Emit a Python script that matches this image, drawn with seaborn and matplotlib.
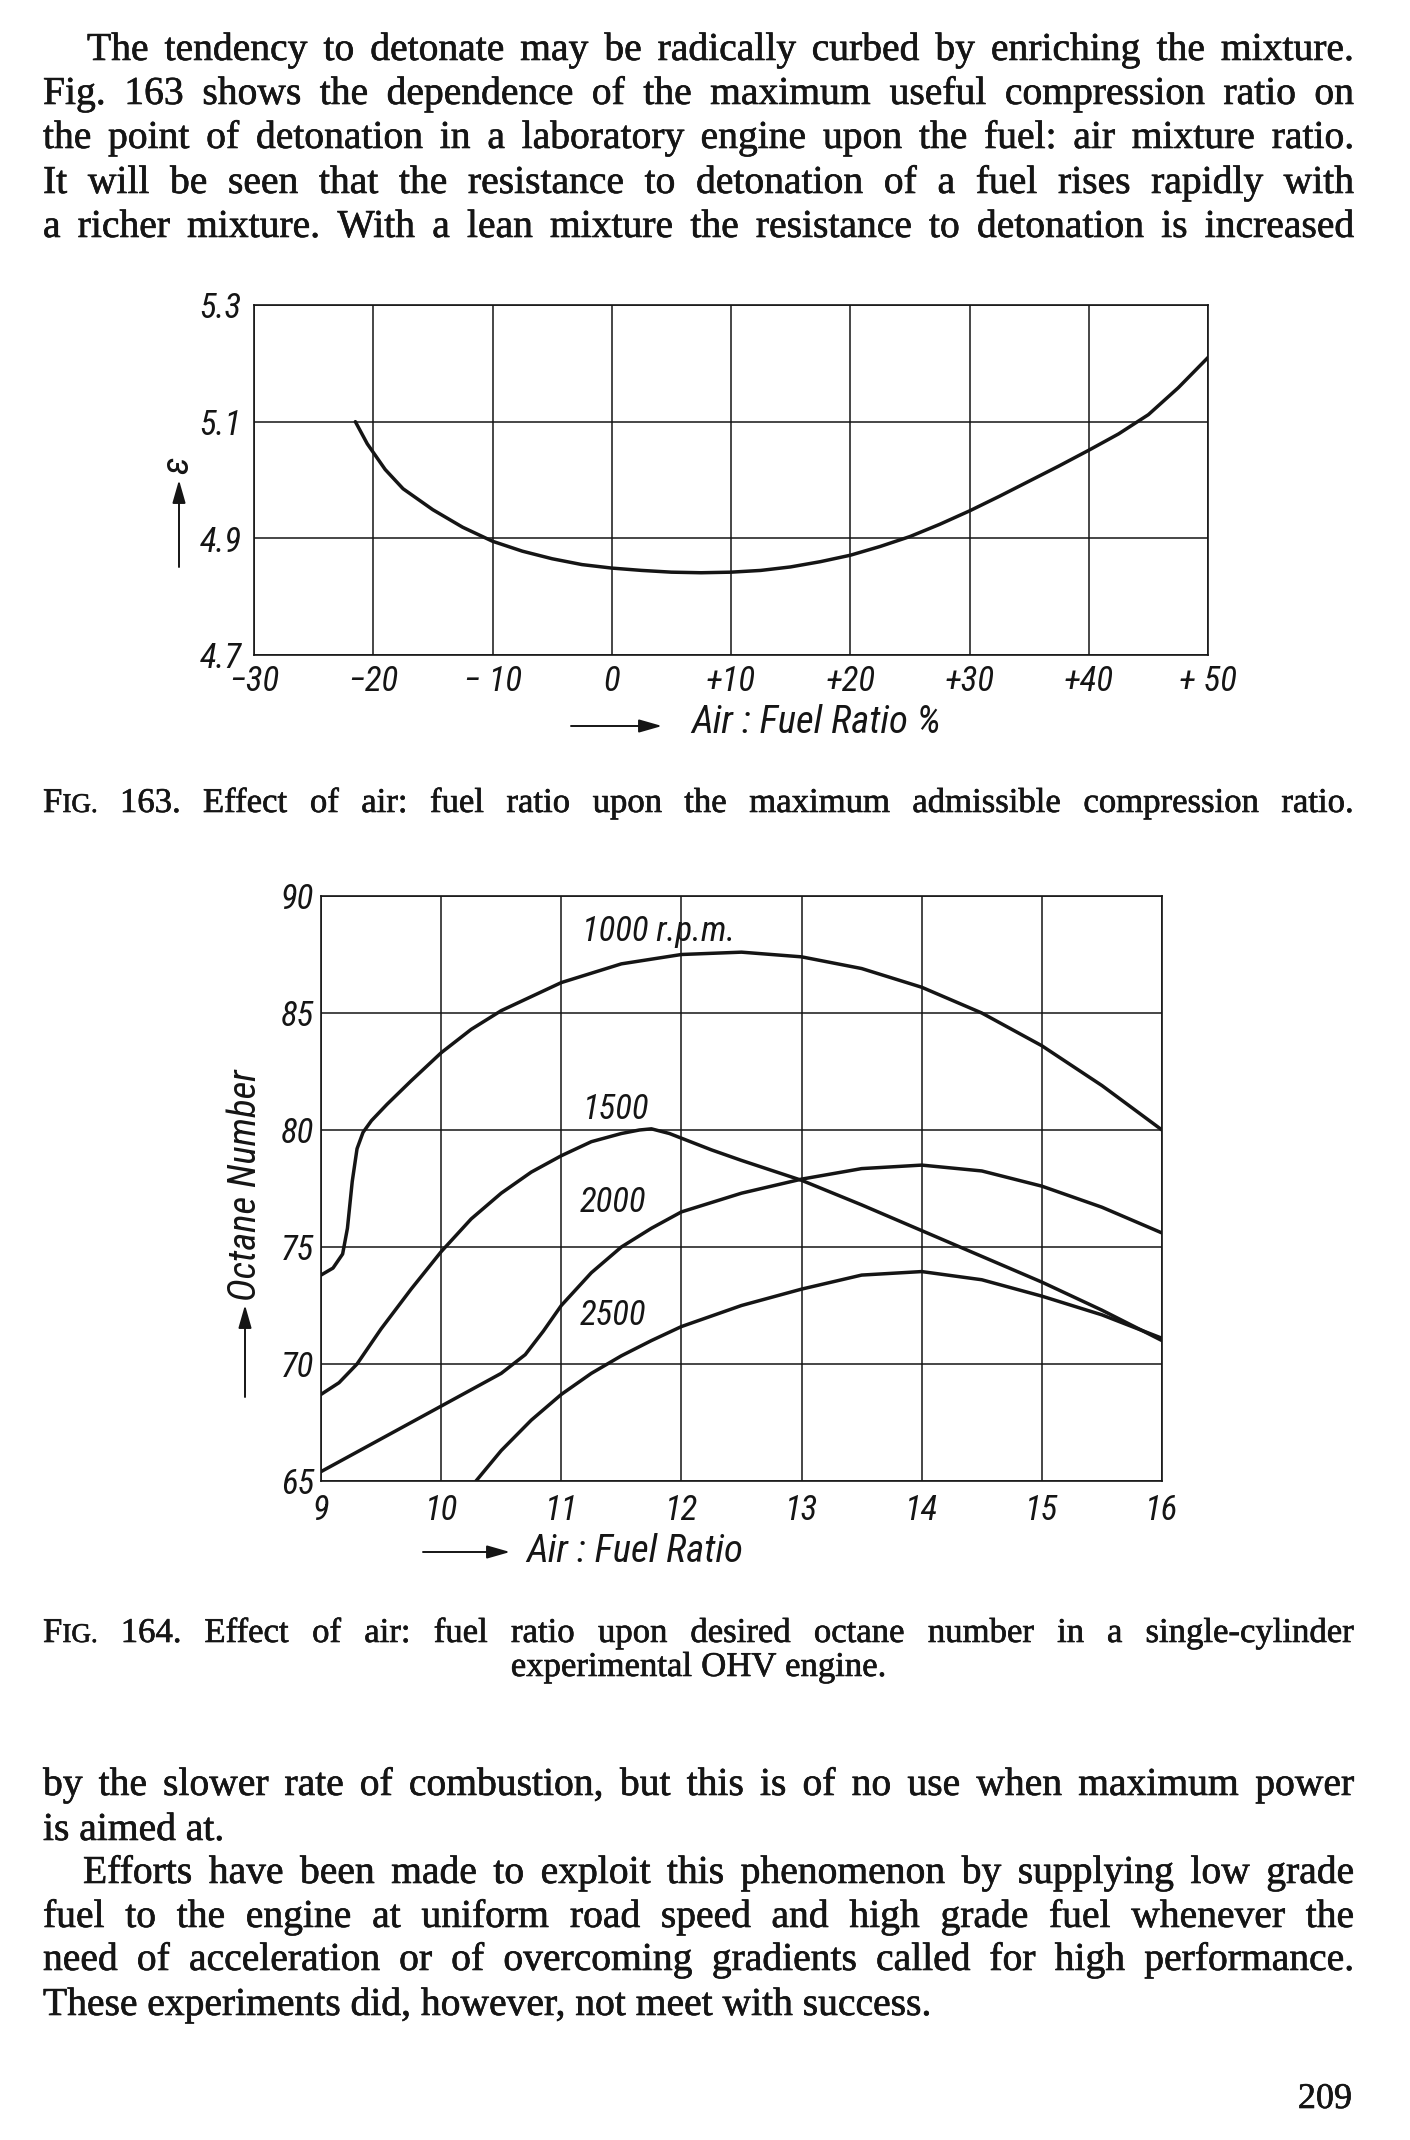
import numpy as np
import pandas as pd
import matplotlib
matplotlib.use("Agg")
import matplotlib.pyplot as plt
import matplotlib.patheffects as pe
from matplotlib.font_manager import FontProperties
import seaborn as sns
from matplotlib import font_manager as fm

# ---------------- data : Fig. 163 ----------------
fig163_ratio = [-21.5, -20.5, -19, -17.5, -15, -12.5, -10, -7.5, -5, -2.5, 0, 2.5, 5, 7.5, 10,
                12.5, 15, 17.5, 20, 22.5, 25, 27.5, 30, 32.5, 35, 37.5, 40, 42.5, 45, 47.5, 50]
fig163_eps = [5.10, 5.062, 5.018, 4.985, 4.949, 4.919, 4.895, 4.878, 4.865, 4.855, 4.849, 4.845,
              4.842, 4.841, 4.842, 4.845, 4.851, 4.86, 4.871, 4.886, 4.903, 4.924, 4.947, 4.972,
              4.998, 5.024, 5.051, 5.079, 5.112, 5.158, 5.21]
fig163_xticks = [-30, -20, -10, 0, 10, 20, 30, 40, 50]
fig163_xticklabels = ["\u221230", "\u221220", "\u2212 10", "0", "+10", "+20", "+30", "+40", "+ 50"]
fig163_yticks = [4.7, 4.9, 5.1, 5.3]
fig163_yticklabels = ["4.7", "4.9", "5.1", "5.3"]

# ---------------- data : Fig. 164 ----------------
afr_1000 = [9.0, 9.1, 9.18, 9.22, 9.26, 9.3, 9.35, 9.42, 9.55, 9.75, 10, 10.25, 10.5, 11, 11.5,
            12, 12.5, 13, 13.5, 14, 14.5, 15, 15.5, 16]
octane_1000 = [73.8, 74.1, 74.7, 75.8, 77.8, 79.2, 79.9, 80.4, 81.1, 82.1, 83.3, 84.3, 85.1,
               86.3, 87.1, 87.5, 87.6, 87.4, 86.9, 86.1, 85.0, 83.6, 81.9, 80.0]
afr_1500 = [9.0, 9.15, 9.3, 9.5, 9.75, 10, 10.25, 10.5, 10.75, 11, 11.25, 11.5, 11.65, 11.75,
            11.9, 12.25, 12.5, 13, 13.5, 14, 14.5, 15, 15.5, 16]
octane_1500 = [68.7, 69.2, 70.0, 71.5, 73.2, 74.8, 76.2, 77.3, 78.2, 78.9, 79.5, 79.85, 80.0,
               80.05, 79.85, 79.15, 78.7, 77.85, 76.8, 75.7, 74.6, 73.5, 72.3, 71.0]
afr_2000 = [9.0, 9.5, 10, 10.5, 10.7, 10.85, 11, 11.25, 11.5, 11.75, 12, 12.5, 13, 13.5, 14,
            14.5, 15, 15.5, 16]
octane_2000 = [65.4, 66.8, 68.2, 69.6, 70.4, 71.4, 72.5, 73.9, 75.0, 75.8, 76.5, 77.3, 77.9,
               78.35, 78.5, 78.25, 77.6, 76.7, 75.6]
afr_2500 = [10.29, 10.5, 10.75, 11, 11.25, 11.5, 11.75, 12, 12.5, 13, 13.5, 14, 14.5, 15,
            15.5, 16]
octane_2500 = [65.0, 66.3, 67.6, 68.7, 69.6, 70.35, 71.0, 71.6, 72.5, 73.2, 73.8, 73.95, 73.6,
               72.9, 72.1, 71.1]
series_names = ["1000 r.p.m.", "1500", "2000", "2500"]
fig164_xticks = [9, 10, 11, 12, 13, 14, 15, 16]
fig164_yticks = [65, 70, 75, 80, 85, 90]

# ---------------- page text ----------------
para1 = [
    "The tendency to detonate may be radically curbed by enriching the mixture.",
    "Fig. 163 shows the dependence of the maximum useful compression ratio on",
    "the point of detonation in a laboratory engine upon the fuel: air mixture ratio.",
    "It will be seen that the resistance to detonation of a fuel rises rapidly with",
    "a richer mixture. With a lean mixture the resistance to detonation is increased",
]
caption163 = "IG. 163. Effect of air: fuel ratio upon the maximum admissible compression ratio."
caption164_l1 = "IG. 164. Effect of air: fuel ratio upon desired octane number in a single-cylinder"
caption164_l2 = "experimental OHV engine."
para2 = [
    "by the slower rate of combustion, but this is of no use when maximum power",
    "is aimed at.",
    "Efforts have been made to exploit this phenomenon by supplying low grade",
    "fuel to the engine at uniform road speed and high grade fuel whenever the",
    "need of acceleration or of overcoming gradients called for high performance.",
    "These experiments did, however, not meet with success.",
]
page_number = "209"

# ---------------- style ----------------
sns.set_theme(style="white")
names = {f.name for f in fm.fontManager.ttflist}
SERIF = "Liberation Serif" if "Liberation Serif" in names else "DejaVu Serif"
plt.rcParams["font.family"] = [SERIF, "DejaVu Sans"]
INK = "#151515"


def find_condensed_italic():
    cands = []
    for f in fm.fontManager.ttflist:
        p = f.fname.lower()
        if ("condensed" in p or "narrow" in p) and ("italic" in p or "oblique" in p) \
                and "bold" not in p and "light" not in p and "thin" not in p \
                and "black" not in p and "medium" not in p and "semi" not in p \
                and "extra" not in p:
            cands.append(f.fname)
    for key in ["roboto", "dejavu", "liberation", "noto", "open"]:
        for c in cands:
            if key in c.lower():
                return c
    return cands[0] if cands else None


COND = find_condensed_italic()


def chart_fp(size):
    if COND:
        return FontProperties(fname=COND, size=size)
    return FontProperties(family="Liberation Sans", style="italic", size=size)


W, H = 1410, 2140
fig = plt.figure(figsize=(W / 100, H / 100), dpi=100)
fig.patch.set_facecolor("white")
renderer = fig.canvas.get_renderer()


def ax_rect(l, t, r, b):
    return [l / W, 1 - b / H, (r - l) / W, (b - t) / H]


def style_axes(ax):
    ax.set_facecolor("white")
    ax.grid(True, color=INK, lw=1.1)
    ax.set_axisbelow(True)
    for s in ax.spines.values():
        s.set_visible(True)
        s.set_color(INK)
        s.set_linewidth(1.2)
    ax.tick_params(length=0, colors=INK)


TICK = 25
LAB = 28

# ---------------- Fig. 163 ----------------
ax1 = fig.add_axes(ax_rect(254, 305, 1208, 655))
sns.lineplot(x=fig163_ratio, y=fig163_eps, sort=False, color=INK, lw=2.5, ax=ax1)
ax1.set_xlim(-30, 50)
ax1.set_ylim(4.7, 5.3)
ax1.set_xticks(fig163_xticks)
ax1.set_xticklabels(fig163_xticklabels, fontproperties=chart_fp(TICK), color=INK)
ax1.set_yticks(fig163_yticks)
ax1.set_yticklabels(fig163_yticklabels, fontproperties=chart_fp(TICK), color=INK)
style_axes(ax1)
ax1.tick_params(axis="y", pad=9)
ax1.tick_params(axis="x", pad=7)
# lowest y label sits just above the "-30" label, as in the reference
ax1.get_yticklabels()[0].set_va("center_baseline")
ax1.set_xlabel("Air : Fuel Ratio %", fontproperties=chart_fp(LAB), color=INK)
ax1.xaxis.label.set_va("center")
ax1.xaxis.set_label_coords(0.589, -0.194)
ax1.set_ylabel("\u03b5", fontproperties=chart_fp(LAB), color=INK)
ax1.yaxis.label.set_va("center")
ax1.yaxis.set_label_coords(-0.08, 0.543)

# ---------------- Fig. 164 ----------------
df164 = pd.concat([
    pd.DataFrame({"rpm": series_names[0], "afr": afr_1000, "octane": octane_1000}),
    pd.DataFrame({"rpm": series_names[1], "afr": afr_1500, "octane": octane_1500}),
    pd.DataFrame({"rpm": series_names[2], "afr": afr_2000, "octane": octane_2000}),
    pd.DataFrame({"rpm": series_names[3], "afr": afr_2500, "octane": octane_2500}),
], ignore_index=True)

ax2 = fig.add_axes(ax_rect(321, 896, 1162, 1481))
sns.lineplot(data=df164, x="afr", y="octane", units="rpm", estimator=None, sort=False,
             color=INK, lw=2.5, ax=ax2)
ax2.set_xlim(9, 16)
ax2.set_ylim(65, 90)
ax2.set_xticks(fig164_xticks)
ax2.set_xticklabels([str(v) for v in fig164_xticks], fontproperties=chart_fp(TICK), color=INK)
ax2.set_yticks(fig164_yticks)
ax2.set_yticklabels([str(v) for v in fig164_yticks], fontproperties=chart_fp(TICK), color=INK)
style_axes(ax2)
ax2.tick_params(axis="y", pad=5)
ax2.tick_params(axis="x", pad=9)
ax2.set_xlabel("Air : Fuel Ratio", fontproperties=chart_fp(LAB), color=INK)
ax2.xaxis.label.set_va("center")
ax2.xaxis.set_label_coords(0.373, -0.121)
ax2.set_ylabel("Octane Number", fontproperties=chart_fp(LAB), color=INK)
ax2.yaxis.label.set_va("center")
ax2.yaxis.set_label_coords(-0.090, 0.506)

label_pos = {"1000 r.p.m.": (11.17, 88.5), "1500": (11.18, 80.9),
             "2000": (11.15, 76.9), "2500": (11.15, 72.1)}
for name in series_names:
    lx, ly = label_pos[name]
    ax2.text(lx, ly, name, ha="left", va="center", fontproperties=chart_fp(TICK), color=INK)

# arrows on axis labels
arrow_kw = dict(arrowstyle="-|>,head_length=0.7,head_width=0.2", lw=1.4, color=INK,
                shrinkA=0, shrinkB=0)
for (xs, ys, xe, ye) in [(571, 726, 662, 726), (179, 567, 179, 480),
                         (423, 1552, 510, 1552), (245, 1397, 245, 1305)]:
    fig.add_artist(matplotlib.patches.FancyArrowPatch((xs / W, 1 - ys / H), (xe / W, 1 - ye / H),
                   transform=fig.transFigure, mutation_scale=20, **arrow_kw))

# ---------------- page text helpers ----------------
EFF = [pe.withStroke(linewidth=0.45, foreground=INK)]


def measure(s, size):
    t = fig.text(0, 0, s, fontsize=size, family=SERIF)
    w = t.get_window_extent(renderer).width
    t.remove()
    return w


def put(x, y, s, size):
    fig.text(x / W, 1 - y / H, s, fontsize=size, family=SERIF, color=INK,
             ha="left", va="baseline", path_effects=EFF)


def draw_line(words, y, x0, x1, size, justify=True, align="left"):
    widths = [sum(measure(t, s) for t, s in w) for w in words]
    total = sum(widths)
    n = len(words)
    nat_gap = measure("a a", size) - measure("aa", size)
    if justify and n > 1 and (x1 - x0 - total) / (n - 1) < 0.6 * nat_gap:
        f = (x1 - x0 - 0.6 * nat_gap * (n - 1)) / total
        words = [[(t, s * f) for t, s in w] for w in words]
        return draw_line(words, y, x0, x1, size * f, justify, align)
    gap = (x1 - x0 - total) / (n - 1) if (justify and n > 1) else nat_gap
    line_w = total + gap * (n - 1)
    if align == "center":
        x = (x0 + x1) / 2 - line_w / 2
    elif align == "right":
        x = x1 - line_w
    else:
        x = x0
    for w, wd in zip(words, widths):
        xx = x
        for t, s in w:
            put(xx, y, t, s)
            xx += measure(t, s)
        x += wd + gap


def simple(line, size):
    return [[(w, size)] for w in line.split()]


BODY = 28.5
CAP = 25
SMALL = 19.5
XL, XR = 43, 1354

base1 = [60, 104, 148, 193, 237]
for i, (line, yb) in enumerate(zip(para1, base1)):
    draw_line(simple(line, BODY), yb, XL + (44 if i == 0 else 0), XR, BODY, justify=True)

cap_words = simple(caption163, CAP)
cap_words[0] = [("F", CAP), ("IG.", SMALL)]
draw_line(cap_words, 812, XL, XR, CAP, justify=True)

cap_words = simple(caption164_l1, CAP)
cap_words[0] = [("F", CAP), ("IG.", SMALL)]
draw_line(cap_words, 1642, XL, XR, CAP, justify=True)
draw_line(simple(caption164_l2, CAP), 1676, XL, XR, CAP, justify=False, align="center")

base2 = [1795, 1840, 1883, 1927, 1970, 2015]
just2 = [True, False, True, True, True, False]
for i, (line, yb, j) in enumerate(zip(para2, base2, just2)):
    draw_line(simple(line, BODY), yb, XL + (40 if i == 2 else 0), XR, BODY, justify=j)

draw_line(simple(page_number, 26), 2108, XL, 1352, 26, justify=False, align="right")

fig.savefig("out.png", dpi=100, facecolor="white")
